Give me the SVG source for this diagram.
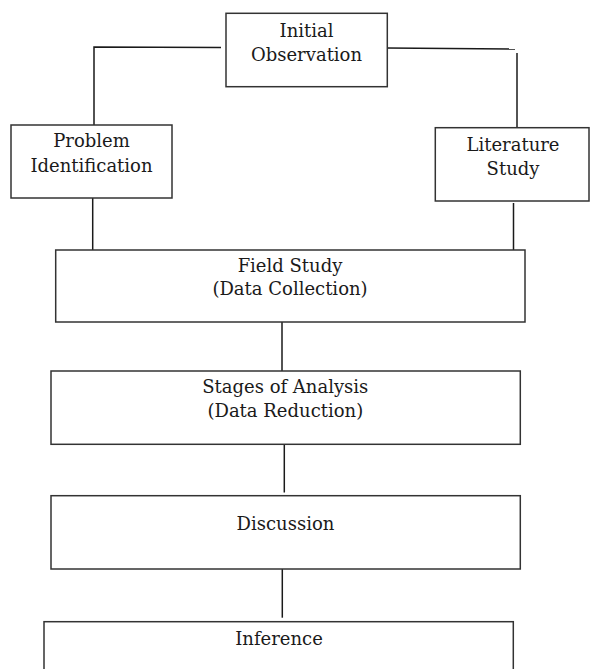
<svg xmlns="http://www.w3.org/2000/svg" width="592" height="669" viewBox="0 0 592 669">
<style>
.box{fill:#fff;stroke:#333;stroke-width:1.5}
.conn{stroke:#1a1a1a;stroke-width:1.5;fill:none}
text{font-family:"DejaVu Serif","Liberation Serif",serif;font-size:18px;fill:#1a1a1a;text-anchor:middle}
</style>
<rect width="592" height="669" fill="#fff"/>
<g id="connectors">
<polyline class="conn" points="221,47.5 94,47 94,125"/>
<line class="conn" x1="387" y1="48" x2="515" y2="49"/>
<line class="conn" x1="517" y1="53" x2="517" y2="127.7"/>
<line class="conn" x1="92.7" y1="198" x2="92.7" y2="250"/>
<line class="conn" x1="513.5" y1="203" x2="513.5" y2="250"/>
<line class="conn" x1="282" y1="322" x2="282" y2="371"/>
<line class="conn" x1="284.3" y1="444.3" x2="284.3" y2="492.5"/>
<line class="conn" x1="282.3" y1="569" x2="282.3" y2="617.7"/>
</g>
<g id="initial-observation">
<rect class="box" x="226" y="13.3" width="161.3" height="73.4"/>
<text x="306.5" y="37">Initial</text>
<text x="306.5" y="60.7">Observation</text>
</g>
<g id="problem-identification">
<rect class="box" x="11" y="125" width="161" height="73"/>
<text x="91.5" y="147.3">Problem</text>
<text x="91.5" y="171.7">Identification</text>
</g>
<g id="literature-study">
<rect class="box" x="435.3" y="127.7" width="153.7" height="73.3"/>
<text x="513" y="151">Literature</text>
<text x="513" y="174.5">Study</text>
</g>
<g id="field-study">
<rect class="box" x="55.7" y="250" width="469.3" height="72"/>
<text x="290" y="271.7">Field Study</text>
<text x="290" y="295">(Data Collection)</text>
</g>
<g id="stages-of-analysis">
<rect class="box" x="51" y="371" width="469.3" height="73.3"/>
<text x="285.3" y="393.3">Stages of Analysis</text>
<text x="285.3" y="416.7">(Data Reduction)</text>
</g>
<g id="discussion">
<rect class="box" x="51" y="495.7" width="469.3" height="73.3"/>
<text x="285.5" y="530">Discussion</text>
</g>
<g id="inference">
<rect class="box" x="44" y="621.7" width="469.3" height="70"/>
<text x="279" y="645">Inference</text>
</g>
</svg>
